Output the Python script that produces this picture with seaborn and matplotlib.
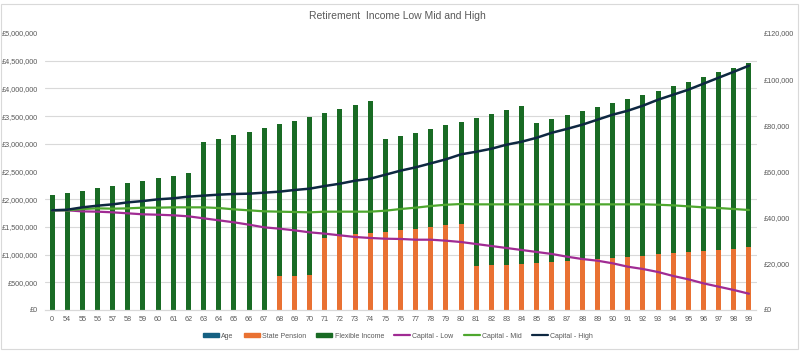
import numpy as np
import pandas as pd
import matplotlib
matplotlib.use("Agg")
import matplotlib.pyplot as plt
import matplotlib.ticker as mticker
from matplotlib.patches import Rectangle, Patch
from matplotlib.lines import Line2D
import seaborn as sns

# categories (age column, first row is 0)
age = [0] + list(range(54, 100))
labels = [str(a) for a in age]

# income (right axis, £ per year)
state_pension = [0] * 15 + [
    14700, 14700, 15200, 31200, 32500, 32900, 33400, 33800, 34700, 35100,
    36000, 36800, 37300, 19100, 19500, 19500, 19900, 20400, 20800, 21200,
    21700, 22100, 22500, 23000, 23400, 24300, 24700, 25100, 25600, 26000,
    26400, 27300]
flexible_income = [
    49800, 50700, 51500, 52800, 53700, 55000, 55900, 57200, 58000, 59300,
    72800, 74100, 75800, 77100, 78800, 65900, 67200, 68400, 54100, 54600,
    55900, 57100, 40300, 40700, 41600, 42400, 43300, 44100, 64100, 65400,
    67100, 68500, 60600, 61900, 63300, 64500, 65800, 67200, 68400, 69700,
    70600, 72300, 73700, 75300, 77100, 78400, 79700]

# capital (left axis, £)
capital_low = [
    1800000, 1800000, 1780000, 1775000, 1763000, 1745000, 1727000, 1720000,
    1709000, 1691000, 1655000, 1619000, 1583000, 1540000, 1492000, 1468000,
    1438000, 1402000, 1378000, 1348000, 1318000, 1300000, 1287000, 1282000,
    1269000, 1269000, 1251000, 1227000, 1191000, 1155000, 1119000, 1083000,
    1047000, 1011000, 962000, 920000, 890000, 843000, 782000, 740000,
    686000, 614000, 554000, 481000, 421000, 361000, 294000]
capital_mid = [
    1800000, 1800000, 1823000, 1835000, 1829000, 1835000, 1847000, 1847000,
    1853000, 1853000, 1853000, 1841000, 1817000, 1799000, 1781000, 1775000,
    1769000, 1763000, 1775000, 1775000, 1775000, 1775000, 1792000, 1823000,
    1847000, 1877000, 1900000, 1913000, 1907000, 1907000, 1907000, 1907000,
    1907000, 1907000, 1907000, 1907000, 1907000, 1907000, 1907000, 1907000,
    1900000, 1889000, 1871000, 1853000, 1841000, 1823000, 1805000]
capital_high = [
    1800000, 1810000, 1853000, 1883000, 1907000, 1943000, 1967000, 1998000,
    2016000, 2046000, 2064000, 2082000, 2094000, 2100000, 2118000, 2136000,
    2166000, 2190000, 2238000, 2280000, 2334000, 2370000, 2442000, 2515000,
    2575000, 2647000, 2720000, 2810000, 2857000, 2911000, 2984000, 3038000,
    3110000, 3200000, 3270000, 3345000, 3435000, 3525000, 3597000, 3688000,
    3796000, 3886000, 3977000, 4085000, 4193000, 4300000, 4410000]

colors = {
    'Age': '#156082',
    'State Pension': '#E97132',
    'Flexible Income': '#196B24',
    'Capital - Low': '#A02B93',
    'Capital - Mid': '#4EA72E',
    'Capital - High': '#0E2841',
}
text_col = '#595959'
grid_col = '#D9D9D9'

df = pd.DataFrame({
    'label': labels,
    'pos': np.arange(len(labels)),
    'age': age,
    'pension': state_pension,
    'flex': flexible_income,
    'low': capital_low,
    'mid': capital_mid,
    'high': capital_high,
})
df['pension_top'] = df['age'] + df['pension']
df['total'] = df['pension_top'] + df['flex']

sns.set_theme(style='white')
plt.rcParams['font.family'] = ['Liberation Sans', 'DejaVu Sans']

fig = plt.figure(figsize=(8.02, 3.51), dpi=100)
fig.patch.set_facecolor('white')
fig.patches.append(Rectangle((0.5 / 802, 2 / 351), 797 / 802, 345 / 351,
                             transform=fig.transFigure, fill=False,
                             edgecolor=grid_col, linewidth=0.8))

ax_bar = fig.add_axes([44.5 / 802, 41 / 351, 712 / 802, 277 / 351])

# stacked bars: draw cumulative totals from top series down
bw = 0.33
sns.barplot(data=df, x='label', y='total', color=colors['Flexible Income'],
            width=bw, saturation=1, ax=ax_bar, linewidth=0)
sns.barplot(data=df, x='label', y='pension_top', color=colors['State Pension'],
            width=bw, saturation=1, ax=ax_bar, linewidth=0)
sns.barplot(data=df, x='label', y='age', color=colors['Age'],
            width=bw, saturation=1, ax=ax_bar, linewidth=0)

ax_bar.set_ylim(0, 120000)
ax_bar.set_xlim(-0.5, len(labels) - 0.5)
ax_bar.yaxis.set_major_locator(mticker.MultipleLocator(20000))
ax_bar.yaxis.set_major_formatter(mticker.FuncFormatter(lambda v, p: f'£{v:,.0f}'))
# gridlines follow the left (capital) axis: 500k steps = 12k on this scale
ax_bar.yaxis.set_minor_locator(mticker.MultipleLocator(12000))
ax_bar.grid(which='minor', axis='y', color=grid_col, linewidth=0.8)
ax_bar.set_axisbelow(True)
ax_bar.set_xlabel('')
ax_bar.set_ylabel('')

ax_line = ax_bar.twinx()
sns.lineplot(data=df, x='pos', y='low', color=colors['Capital - Low'], linewidth=1.6, ax=ax_line)
sns.lineplot(data=df, x='pos', y='mid', color=colors['Capital - Mid'], linewidth=1.6, ax=ax_line)
sns.lineplot(data=df, x='pos', y='high', color=colors['Capital - High'], linewidth=1.8, ax=ax_line)
ax_line.set_ylim(0, 5000000)
ax_line.yaxis.set_major_locator(mticker.MultipleLocator(500000))
ax_line.yaxis.set_major_formatter(mticker.FuncFormatter(lambda v, p: f'£{v:,.0f}'))
ax_line.set_xlabel('')
ax_line.set_ylabel('')
ax_line.set_xlim(-0.5, len(labels) - 0.5)

# twinx puts the first axes on the left, so swap sides afterwards
ax_bar.yaxis.tick_right()
ax_line.yaxis.tick_left()

for a in (ax_bar, ax_line):
    for s in ('top', 'left', 'right'):
        a.spines[s].set_visible(False)
    a.spines['bottom'].set_color(grid_col)
    a.spines['bottom'].set_linewidth(0.8)
    a.tick_params(axis='both', which='both', length=0, labelsize=5.2, colors=text_col)
    a.tick_params(axis='y', pad=5)
    a.tick_params(axis='x', pad=4)

fig.text(397 / 802, 1 - 16 / 351, 'Retirement  Income Low Mid and High',
         ha='center', va='center', fontsize=7.5, color=text_col)

handles = [Patch(color=colors[k]) for k in ('Age', 'State Pension', 'Flexible Income')]
handles += [Line2D([], [], color=colors[k], linewidth=1.6)
            for k in ('Capital - Low', 'Capital - Mid', 'Capital - High')]
fig.legend(handles, list(colors.keys()), loc='center', ncol=6,
           bbox_to_anchor=(398 / 802, 1 - 336 / 351), frameon=False,
           fontsize=5, labelcolor=text_col, handlelength=2.3, handleheight=0.5,
           handletextpad=0.3, columnspacing=1.5)

fig.savefig('out.png', dpi=100, facecolor='white')
